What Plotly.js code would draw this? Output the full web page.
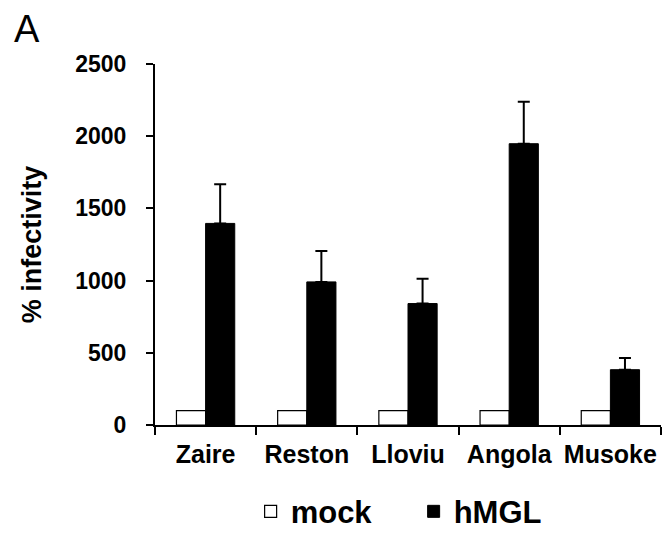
<!DOCTYPE html>
<html>
<head>
<meta charset="utf-8">
<script src="https://cdn.plot.ly/plotly-3.0.1.min.js"></script>
<style>html,body{margin:0;padding:0;background:#fff;}#chart{width:665px;height:533px;}</style>
</head>
<body>
<div id="chart"></div>
<script>
const categories = ["Zaire", "Reston", "Lloviu", "Angola", "Musoke"];
const mockValues = [100, 100, 100, 100, 100];
const hmglValues = [1396, 991, 841, 1948, 383];
const hmglErrors = [272, 214, 171, 291, 81];
const noErrors = [0, 0, 0, 0, 0];
const yTickValues = [0, 500, 1000, 1500, 2000, 2500];
const yTickLabels = ["0", "500", "1000", "1500", "2000", "2500"];

const fontFamily = "Arial, 'Liberation Sans', sans-serif";

const traces = [
  {
    type: "bar",
    name: "mock",
    x: categories,
    y: mockValues,
    marker: { color: "#ffffff", line: { color: "#000000", width: 1.2 } }
  },
  {
    type: "bar",
    name: "hMGL",
    x: categories,
    y: hmglValues,
    marker: { color: "#000000", line: { color: "#000000", width: 1 } },
    error_y: {
      type: "data",
      symmetric: false,
      array: hmglErrors,
      arrayminus: noErrors,
      color: "#000000",
      thickness: 2,
      width: 6
    }
  }
];

const layout = {
  width: 665,
  height: 533,
  paper_bgcolor: "#ffffff",
  plot_bgcolor: "#ffffff",
  margin: { l: 155, r: 4, t: 63.5, b: 107.5 },
  barmode: "group",
  bargap: 0.424,
  bargroupgap: 0,
  font: { family: fontFamily, color: "#000000" },
  showlegend: true,
  legend: {
    orientation: "h",
    xref: "container",
    yref: "container",
    x: 0.622,
    xanchor: "center",
    y: 0.04,
    yanchor: "middle",
    font: { family: fontFamily, size: 31, weight: "bold", color: "#000000" },
    itemwidth: 30,
    entrywidth: 118,
    traceorder: "normal"
  },
  xaxis: {
    type: "category",
    showline: true,
    linecolor: "#000000",
    linewidth: 2,
    ticks: "outside",
    tickson: "boundaries",
    ticklen: 8,
    tickwidth: 2,
    tickcolor: "#000000",
    tickangle: 0,
    tickfont: { family: fontFamily, size: 25, weight: "bold", color: "#000000" },
    ticklabelstandoff: 6,
    showgrid: false,
    zeroline: false,
    fixedrange: true
  },
  yaxis: {
    range: [0, 2500],
    tickvals: yTickValues,
    ticktext: yTickLabels,
    showline: true,
    linecolor: "#000000",
    linewidth: 2,
    ticks: "outside",
    ticklen: 7,
    tickwidth: 2,
    tickcolor: "#000000",
    tickfont: { family: fontFamily, size: 23, weight: "bold", color: "#000000" },
    ticklabelstandoff: 15,
    showgrid: false,
    zeroline: false,
    fixedrange: true,
    title: {
      text: "% infectivity",
      font: { family: fontFamily, size: 27, weight: "bold", color: "#000000" },
      standoff: 26
    }
  },
  annotations: [
    {
      text: "A",
      xref: "paper",
      yref: "paper",
      x: -0.283,
      y: 1.162,
      xanchor: "left",
      yanchor: "top",
      showarrow: false,
      font: { family: fontFamily, size: 38, color: "#000000" }
    }
  ]
};

Plotly.newPlot("chart", traces, layout, { displayModeBar: false, staticPlot: true });
</script>
</body>
</html>
